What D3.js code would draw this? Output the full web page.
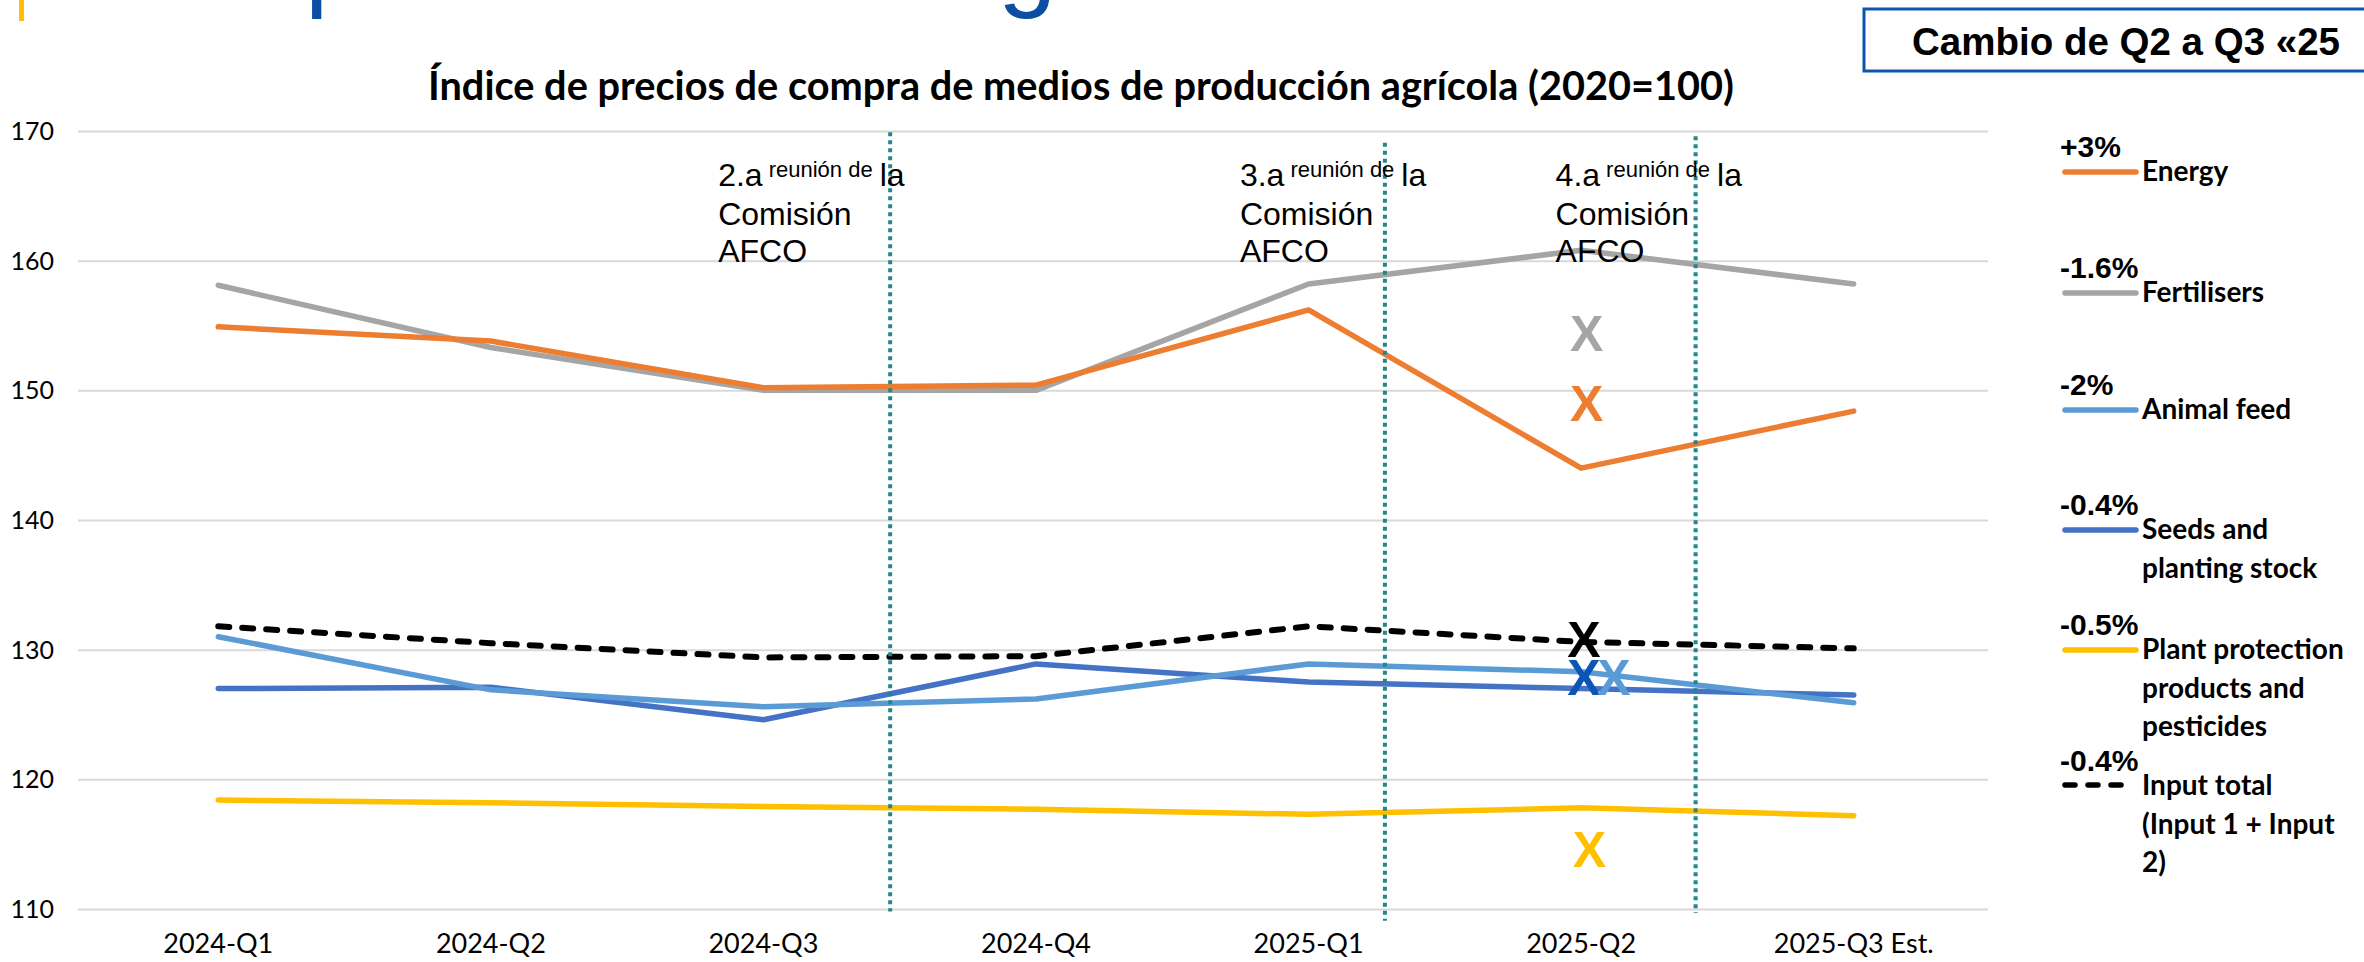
<!DOCTYPE html>
<html lang="es">
<head>
<meta charset="UTF-8">
<title>Índice de precios de compra de medios de producción agrícola</title>
<script src="https://d3js.org/d3.v7.min.js"></script>
<style>
    body { margin: 0; background: #fff; }
    svg { display: block; }
    .grid line { stroke: #d9d9d9; stroke-width: 2px; }
    .grid path { display: none; }
    .ylab { font-family: Lato, sans-serif; font-size: 25px; fill: #000; }
    .xlab { font-family: Lato, sans-serif; font-size: 27px; fill: #000; }
    .title { font-family: Lato, sans-serif; font-weight: bold; font-size: 40px; fill: #000; }
    .note { font-family: "Liberation Sans", Arial, sans-serif; font-size: 32px; fill: #000; }
    .pct { font-family: "Liberation Sans", Arial, sans-serif; font-weight: bold; font-size: 30px; fill: #000; }
    .leg { font-family: Lato, sans-serif; font-weight: bold; font-size: 28px; fill: #000; }
    .mark { font-family: "Liberation Sans", Arial, sans-serif; font-weight: bold; font-size: 50px; }
</style>
</head>
<body>
<svg id="chart" width="2364" height="962"></svg>
<script>
// ---- data ----
const quarters = ["2024-Q1", "2024-Q2", "2024-Q3", "2024-Q4", "2025-Q1", "2025-Q2", "2025-Q3 Est."];

const energy      = [154.9, 153.8, 150.2, 150.4, 156.2, 144.0, 148.4];
const fertilisers = [158.1, 153.3, 150.0, 150.0, 158.2, 160.8, 158.2];
const animalFeed  = [131.0, 126.9, 125.6, 126.2, 128.9, 128.3, 125.9];
const seeds       = [127.0, 127.1, 124.6, 128.9, 127.5, 127.0, 126.5];
const plantProt   = [118.4, 118.2, 117.9, 117.7, 117.3, 117.8, 117.2];
const inputTotal  = [131.8, 130.5, 129.4, 129.5, 131.8, 130.6, 130.1];

const seriesNames = ["Energy", "Fertilisers", "Animal feed", "Seeds and planting stock",
    "Plant protection products and pesticides", "Input total (Input 1 + Input 2)"];
const seriesPct   = ["+3%", "-1.6%", "-2%", "-0.4%", "-0.5%", "-0.4%"];
const seriesColors = ["#ED7D31", "#A5A5A5", "#5B9BD5", "#4472C4", "#FFC000", "#000000"];

// forecast crosses at 2025-Q2 (quarter index, value)
const crossIdx   = [5.02, 5.02, 5.01, 5.01, 5.12, 5.03];
const crossVal   = [154.4, 149.0, 130.8, 127.9, 127.9, 114.6];
const crossColor = ["#A5A5A5", "#ED7D31", "#000000", "#0B56B4", "#5B9BD5", "#FFC000"];

// AFCO meetings, as fractional quarter index
const meetingIdx   = [2.465, 4.28, 5.42];
const meetingTop   = [169.9, 169.1, 169.6];
const meetingBot   = [109.8, 109.1, 109.7];
const meetingLabel = ["2.a", "3.a", "4.a"];

const yTicks = [110, 120, 130, 140, 150, 160, 170];

// ---- layout ----
const svg = d3.select("#chart");
const margin = { left: 82, right: 374, top: 131, bottom: 53 };
const W = 2364, H = 962;

const x = d3.scaleBand()
    .domain(quarters)
    .range([margin.left, W - margin.right]);
const step = x.bandwidth();
const xi = i => x(quarters[0]) + step / 2 + i * step;

const y = d3.scaleLinear()
    .domain([110, 170])
    .range([H - margin.bottom, margin.top]);

// cut-off slide heading at the very top
svg.append("rect").attr("x", 19).attr("y", 0).attr("width", 5).attr("height", 21).attr("fill", "#FFC000");
svg.append("text").attr("x", 305).attr("y", -3)
    .style("font-family", "'Liberation Sans', Arial, sans-serif")
    .style("font-size", "105px").attr("fill", "#0B4EA2").text("p");
svg.append("text").attr("x", 998).attr("y", -3)
    .style("font-family", "'Liberation Sans', Arial, sans-serif")
    .style("font-size", "105px").attr("fill", "#0B4EA2").text("g");

// grid
svg.append("g")
    .attr("class", "grid")
    .attr("transform", `translate(${margin.left - 4},0)`)
    .call(d3.axisLeft(y).tickValues(yTicks).tickSize(-(W - margin.right - margin.left + 2)).tickFormat(""));

svg.append("g").selectAll("text")
    .data(yTicks)
    .join("text")
    .attr("class", "ylab")
    .attr("x", 54)
    .attr("y", d => y(d))
    .attr("dy", "0.36em")
    .attr("text-anchor", "end")
    .text(d => d);

svg.append("g").selectAll("text")
    .data(quarters)
    .join("text")
    .attr("class", "xlab")
    .attr("x", d => x(d) + step / 2)
    .attr("y", 953)
    .attr("text-anchor", "middle")
    .text(d => d);

// title
svg.append("text")
    .attr("class", "title")
    .attr("x", 1081)
    .attr("y", 100)
    .attr("text-anchor", "middle")
    .attr("textLength", 1306)
    .attr("lengthAdjust", "spacingAndGlyphs")
    .text("Índice de precios de compra de medios de producción agrícola (2020=100)");

// box top right
svg.append("rect")
    .attr("x", 1864).attr("y", 9)
    .attr("width", 540).attr("height", 62)
    .attr("fill", "none").attr("stroke", "#0B56B0").attr("stroke-width", 3);
svg.append("text")
    .attr("x", 1912).attr("y", 55)
    .attr("textLength", 428)
    .attr("lengthAdjust", "spacingAndGlyphs")
    .style("font-family", "'Liberation Sans', Arial, sans-serif")
    .style("font-weight", "bold").style("font-size", "39px")
    .text("Cambio de Q2 a Q3 «25");

// lines
const allSeries = [energy, fertilisers, animalFeed, seeds, plantProt, inputTotal];
const line = d3.line().x((d, i) => xi(i)).y(d => y(d));
const drawOrder = [4, 3, 2, 5, 1, 0];

svg.append("g").selectAll("path")
    .data(drawOrder)
    .join("path")
    .attr("d", k => line(allSeries[k]))
    .attr("fill", "none")
    .attr("stroke", k => seriesColors[k])
    .attr("stroke-width", k => k === 5 ? 6 : 5.5)
    .attr("stroke-linecap", "round")
    .attr("stroke-linejoin", "round")
    .attr("stroke-dasharray", k => k === 5 ? "11,13" : null);

// meeting markers
const meet = svg.append("g");
meet.selectAll("line")
    .data(meetingIdx)
    .join("line")
    .attr("x1", d => xi(d)).attr("x2", d => xi(d))
    .attr("y1", (d, i) => y(meetingTop[i]))
    .attr("y2", (d, i) => y(meetingBot[i]))
    .attr("stroke", "#21878A")
    .attr("stroke-width", 4)
    .attr("stroke-dasharray", "4,4");

const noteShift = [172, 145, 140];
const notes = meet.selectAll("text")
    .data(meetingIdx)
    .join("text")
    .attr("class", "note")
    .attr("x", (d, i) => xi(d) - noteShift[i])
    .attr("y", 186);
notes.append("tspan").text((d, i) => meetingLabel[i]);
notes.append("tspan").attr("dx", 6).attr("dy", -9).style("font-size", "22px").text("reunión de");
notes.append("tspan").attr("dx", 7).attr("dy", 9).text("la");
notes.append("tspan").attr("x", (d, i) => xi(d) - noteShift[i]).attr("dy", 39).text("Comisión");
notes.append("tspan").attr("x", (d, i) => xi(d) - noteShift[i]).attr("dy", 37).text("AFCO");

// crosses
svg.append("g").selectAll("text")
    .data(crossVal)
    .join("text")
    .attr("class", "mark")
    .attr("x", (d, i) => xi(crossIdx[i]))
    .attr("y", d => y(d))
    .attr("dy", "0.36em")
    .attr("text-anchor", "middle")
    .attr("fill", (d, i) => crossColor[i])
    .text("X");

// legend
const legTop = [157, 278, 395, 515, 635, 771];
const legLines = [["Energy"], ["Fertilisers"], ["Animal feed"], ["Seeds and", "planting stock"],
    ["Plant protection", "products and", "pesticides"], ["Input total", "(Input 1 + Input", "2)"]];

const leg = svg.append("g").selectAll("g")
    .data(seriesNames)
    .join("g")
    .attr("transform", (d, i) => `translate(2060,${legTop[i]})`);

leg.append("text").attr("class", "pct").text((d, i) => seriesPct[i]);
leg.append("line")
    .attr("x1", 5).attr("x2", (d, i) => i === 5 ? 70 : 76)
    .attr("y1", (d, i) => i === 5 ? 14 : 15)
    .attr("y2", (d, i) => i === 5 ? 14 : 15)
    .attr("stroke", (d, i) => seriesColors[i])
    .attr("stroke-width", 5.5)
    .attr("stroke-linecap", "round")
    .attr("stroke-dasharray", (d, i) => i === 5 ? "10,13" : null);
leg.append("text")
    .attr("class", "leg")
    .attr("y", 24)
    .selectAll("tspan")
    .data((d, i) => legLines[i])
    .join("tspan")
    .attr("x", 82)
    .attr("dy", (d, j) => j === 0 ? 0 : 38.5)
    .text(d => d);
</script>
</body>
</html>
